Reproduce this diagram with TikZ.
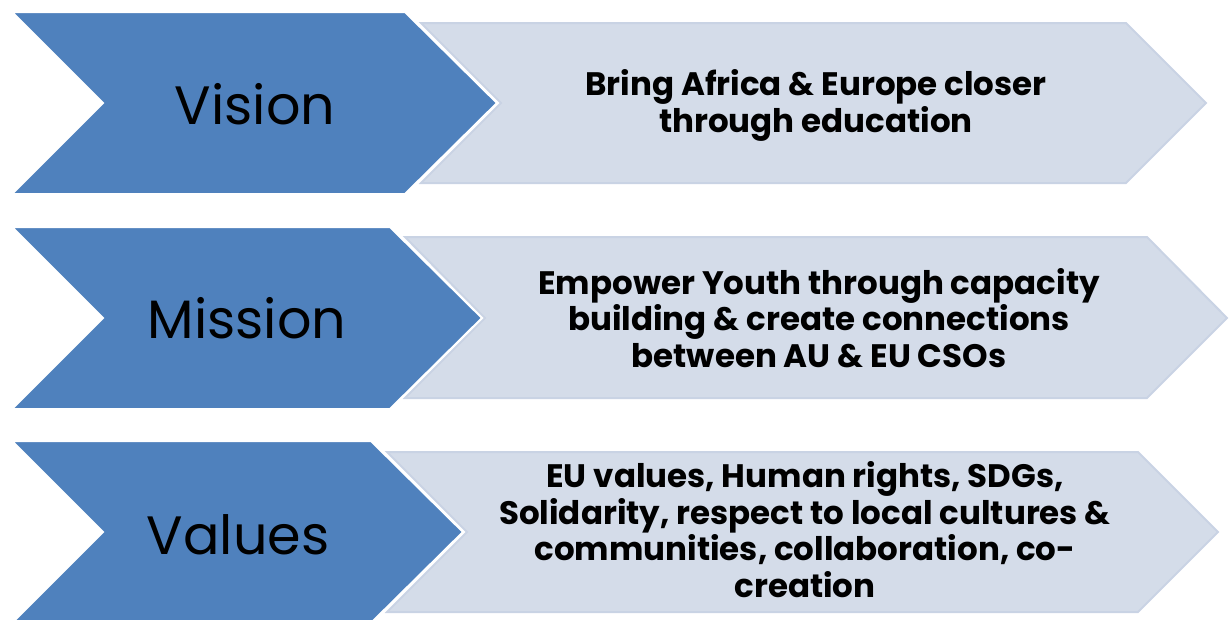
\documentclass[tikz,border=0pt]{standalone}
\usepackage{fontspec}
\setmainfont{Poppins}
\definecolor{chevblue}{HTML}{4F81BD}
\definecolor{panelfill}{HTML}{D4DCE9}
\definecolor{panelline}{HTML}{C9D3E4}

\begin{document}
\begin{tikzpicture}[x=1pt,y=-1pt]
\tikzstyle{chevron}=[fill=chevblue, draw=white, line width=2pt, line join=miter]
\tikzstyle{panel}=[fill=panelfill, draw=panelline, line width=2pt, line join=miter]
\tikzstyle{title}=[anchor=base, inner sep=0pt, font=\fontsize{54}{58}\selectfont]
\tikzstyle{body}=[anchor=base, inner sep=0pt, align=center, font=\fontsize{32.5}{36.5}\selectfont\bfseries]

\useasboundingbox (0,0) rectangle (1229,619);

% light panels
\draw[panel] (421,23) -- (1126,23) -- (1206,103) -- (1126,183) -- (421,183) -- (501,103) -- cycle;
\draw[panel] (405,237) -- (1147,237) -- (1227,318) -- (1147,398) -- (405,398) -- (485,318) -- cycle;
\draw[panel] (387,452) -- (1138,452) -- (1218,532) -- (1138,612) -- (387,612) -- (467,532) -- cycle;

% blue chevrons
\draw[chevron] (12,12) -- (405,12) -- (497,103) -- (405,194) -- (12,194) -- (103,103) -- cycle;
\draw[chevron] (12,227) -- (390,227) -- (482,318) -- (390,409) -- (12,409) -- (103,318) -- cycle;
\draw[chevron] (12,441) -- (371,441) -- (463,532) -- (371,623) -- (12,623) -- (103,532) -- cycle;

\draw (255,124) node[title] (vision) {Vision};
\draw (247,338) node[title] (mission) {Mission};
\draw (238,554) node[title] (values) {Values};

% last-line baselines
\draw (816,132) node[body] (visiontext) {Bring Africa \& Europe closer\\through education};
\draw (819,367) node[body] (missiontext) {Empower Youth through capacity\\building \& create connections\\between AU \& EU CSOs};
\draw (805,597) node[body] (valuestext) {EU values, Human rights, SDGs,\\Solidarity, respect to local cultures \&\\communities, collaboration, co-\\creation};
\end{tikzpicture}
\end{document}
